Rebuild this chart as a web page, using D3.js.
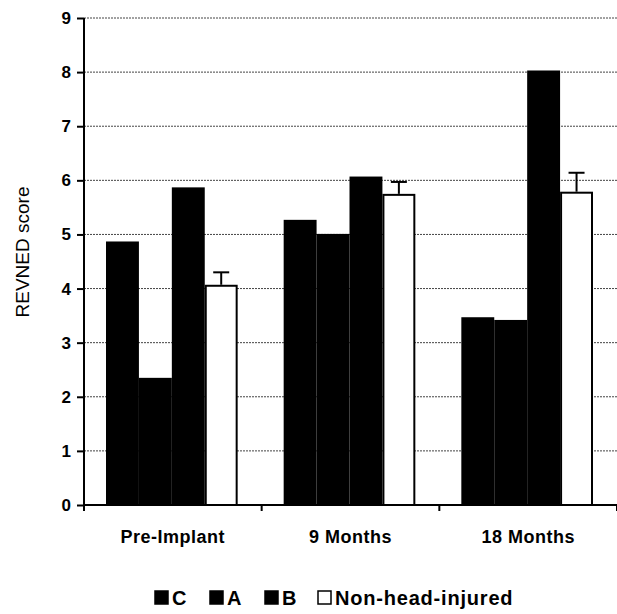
<!DOCTYPE html>
<html><head><meta charset="utf-8">
<script src="https://cdn.jsdelivr.net/npm/d3@7"></script>
<style>body{margin:0;background:#fff}svg{display:block}text{font-family:"Liberation Sans",Arial,sans-serif}</style>
</head><body><svg id="c" width="617" height="614"></svg>
<script>
const categories = ["Pre-Implant", "9 Months", "18 Months"];
const seriesNames = ["C", "A", "B", "Non-head-injured"];
const valuesC = [4.87, 5.27, 3.47];
const valuesA = [2.35, 5.01, 3.42];
const valuesB = [5.87, 6.07, 8.03];
const valuesN = [4.07, 5.75, 5.79];
const errorsN = [0.23, 0.22, 0.35];
const yTicks = [0,1,2,3,4,5,6,7,8,9];
const seriesFill = ["#000", "#000", "#000", "#fff"];

const svg = d3.select("#c");
const L = 84, R = 617, T = 18, B = 505;
const x0 = d3.scaleBand().domain(categories).range([L, R]).padding(0);
const x1 = d3.scaleBand().domain(seriesNames).range([22, x0.bandwidth() - 24]).padding(0);
const y = d3.scaleLinear().domain([0, 9]).range([B, T]);

// gridlines
svg.append("g").selectAll("line").data(yTicks.filter(d => d > 0)).join("line")
  .attr("x1", L).attr("x2", R).attr("y1", d => y(d)).attr("y2", d => y(d))
  .attr("stroke", "#444").attr("stroke-width", 1).attr("stroke-dasharray", "2,1");

const data = categories.map((c, i) => ({cat: c, vals: [valuesC[i], valuesA[i], valuesB[i], valuesN[i]], err: errorsN[i]}));

const g = svg.append("g").selectAll("g").data(data).join("g")
  .attr("transform", d => `translate(${x0(d.cat)},0)`);

g.each(function(d) {
  const gx = x1("Non-head-injured") + x1.bandwidth() / 2;
  const sel = d3.select(this);
  sel.append("line").attr("x1", gx).attr("x2", gx).attr("y1", y(d.vals[3])).attr("y2", y(d.vals[3] + d.err))
    .attr("stroke", "#000").attr("stroke-width", 2);
  sel.append("line").attr("x1", gx - 8).attr("x2", gx + 8).attr("y1", y(d.vals[3] + d.err)).attr("y2", y(d.vals[3] + d.err))
    .attr("stroke", "#000").attr("stroke-width", 2);
});

g.selectAll("rect").data(d => d.vals.map((v, j) => ({name: seriesNames[j], v, j}))).join("rect")
  .attr("x", d => x1(d.name) + (d.j === 3 ? 1 : 0))
  .attr("width", d => x1.bandwidth() - (d.j === 3 ? 2 : 0))
  .attr("y", d => y(d.v) + (d.j === 3 ? 1 : 0))
  .attr("height", d => y(0) - y(d.v) - (d.j === 3 ? 1 : 0))
  .attr("fill", d => seriesFill[d.j])
  .attr("stroke", d => d.j === 3 ? "#000" : "none")
  .attr("stroke-width", 2);

// y axis
const yAxis = svg.append("g").attr("transform", `translate(${L},0)`)
  .call(d3.axisLeft(y).tickValues(yTicks).tickFormat(d3.format("d")).tickSize(7).tickPadding(6));
yAxis.select(".domain").attr("stroke", "#000").attr("stroke-width", 2).attr("d", `M0,${T}V${B}`);
yAxis.selectAll(".tick line").attr("stroke", "#000").attr("stroke-width", 2);
yAxis.selectAll(".tick text").attr("font-size", 17).attr("font-weight", "bold").attr("fill", "#000");

// x axis
const xAxis = svg.append("g").attr("transform", `translate(0,${B})`)
  .call(d3.axisBottom(x0).tickValues([]).tickSizeOuter(0));
xAxis.select(".domain").attr("stroke", "#000").attr("stroke-width", 2).attr("d", `M${L},0H${R}`);
xAxis.selectAll(".sep").data([L, ...categories.map(c => x0(c) + x0.bandwidth())]).join("line")
  .attr("class", "sep").attr("x1", d => d).attr("x2", d => d).attr("y1", 0).attr("y2", 6)
  .attr("stroke", "#000").attr("stroke-width", 2);
xAxis.selectAll(".lab").data(categories).join("text").attr("class", "lab")
  .attr("x", d => x0(d) + x0.bandwidth() / 2).attr("y", 38)
  .attr("fill", "#000").attr("text-anchor", "middle").attr("font-size", 18).attr("font-weight", "bold")
  .attr("letter-spacing", 0.5).text(d => d);

// y title
svg.append("text").attr("transform", `translate(29,252) rotate(-90)`)
  .attr("text-anchor", "middle").attr("font-size", 19).attr("fill", "#000").text("REVNED score");

// legend
const legX = [155, 210, 265, 318];
const leg = svg.append("g").selectAll("g").data(seriesNames).join("g")
  .attr("transform", (d, i) => `translate(${legX[i]},598)`);
leg.append("rect").attr("x", 0).attr("y", -7).attr("width", 13).attr("height", 13)
  .attr("fill", (d, i) => seriesFill[i]).attr("stroke", "#000").attr("stroke-width", 1.5);
leg.append("text").attr("x", 17).attr("y", 7).attr("font-size", 20).attr("font-weight", "bold")
  .attr("letter-spacing", 0.8).attr("fill", "#000").text(d => d);
</script></body></html>
